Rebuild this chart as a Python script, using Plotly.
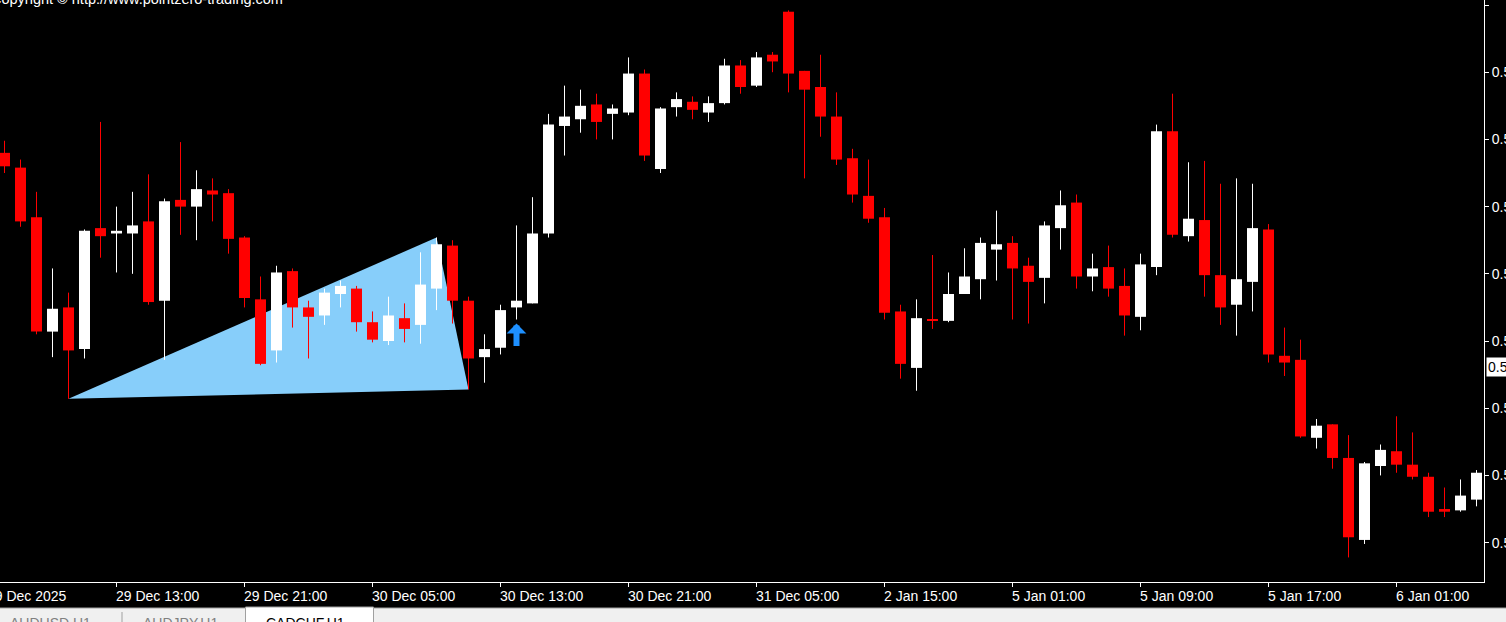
import plotly.graph_objects as go

# ---------------- data (CADCHF, H1) ----------------
bar_index = list(range(93))

open_prices = [0.57790, 0.57779, 0.57742, 0.57657, 0.57675, 0.57644, 0.57734, 0.57730, 0.57730, 0.57739,
               0.57680, 0.57755, 0.57750, 0.57762, 0.57760, 0.57727, 0.57681, 0.57643, 0.57702, 0.57675,
               0.57669, 0.57685, 0.57689, 0.57664, 0.57650, 0.57667, 0.57662, 0.57689, 0.57721, 0.57680,
               0.57638, 0.57645, 0.57675, 0.57678, 0.57730, 0.57810, 0.57815, 0.57826, 0.57819, 0.57820,
               0.57849, 0.57778, 0.57824, 0.57828, 0.57820, 0.57827, 0.57855, 0.57840, 0.57863, 0.57895,
               0.57851, 0.57839, 0.57817, 0.57786, 0.57758, 0.57742, 0.57672, 0.57630, 0.57666, 0.57665,
               0.57685, 0.57696, 0.57718, 0.57723, 0.57706, 0.57697, 0.57734, 0.57753, 0.57698, 0.57705,
               0.57691, 0.57668, 0.57705, 0.57806, 0.57728, 0.57740, 0.57699, 0.57677, 0.57694, 0.57733,
               0.57639, 0.57636, 0.57578, 0.57588, 0.57563, 0.57502, 0.57557, 0.57568, 0.57558, 0.57549,
               0.57525, 0.57524, 0.57532]

high_prices = [0.57799, 0.57785, 0.57761, 0.57704, 0.57686, 0.57733, 0.57813, 0.57750, 0.57761, 0.57774,
               0.57756, 0.57798, 0.57777, 0.57771, 0.57763, 0.57728, 0.57698, 0.57706, 0.57704, 0.57680,
               0.57689, 0.57695, 0.57691, 0.57672, 0.57683, 0.57678, 0.57716, 0.57727, 0.57725, 0.57683,
               0.57655, 0.57677, 0.57736, 0.57757, 0.57819, 0.57840, 0.57837, 0.57834, 0.57826, 0.57861,
               0.57852, 0.57824, 0.57835, 0.57832, 0.57832, 0.57860, 0.57859, 0.57865, 0.57865, 0.57896,
               0.57851, 0.57863, 0.57835, 0.57793, 0.57785, 0.57749, 0.57677, 0.57681, 0.57714, 0.57701,
               0.57719, 0.57727, 0.57747, 0.57728, 0.57712, 0.57739, 0.57762, 0.57759, 0.57715, 0.57721,
               0.57704, 0.57715, 0.57811, 0.57834, 0.57783, 0.57784, 0.57767, 0.57771, 0.57767, 0.57737,
               0.57660, 0.57651, 0.57592, 0.57588, 0.57580, 0.57560, 0.57573, 0.57594, 0.57582, 0.57552,
               0.57541, 0.57547, 0.57554]

low_prices = [0.57775, 0.57735, 0.57655, 0.57638, 0.57607, 0.57637, 0.57712, 0.57701, 0.57700, 0.57677,
              0.57636, 0.57729, 0.57725, 0.57739, 0.57715, 0.57675, 0.57632, 0.57634, 0.57660, 0.57637,
              0.57662, 0.57675, 0.57657, 0.57649, 0.57647, 0.57649, 0.57648, 0.57673, 0.57663, 0.57614,
              0.57619, 0.57640, 0.57666, 0.57678, 0.57727, 0.57788, 0.57805, 0.57800, 0.57800, 0.57818,
              0.57784, 0.57775, 0.57817, 0.57815, 0.57813, 0.57826, 0.57834, 0.57839, 0.57850, 0.57835,
              0.57771, 0.57802, 0.57781, 0.57753, 0.57738, 0.57666, 0.57622, 0.57613, 0.57659, 0.57664,
              0.57685, 0.57681, 0.57695, 0.57666, 0.57663, 0.57678, 0.57718, 0.57689, 0.57687, 0.57683,
              0.57654, 0.57658, 0.57699, 0.57727, 0.57724, 0.57683, 0.57662, 0.57654, 0.57672, 0.57634,
              0.57624, 0.57578, 0.57570, 0.57555, 0.57489, 0.57499, 0.57550, 0.57552, 0.57547, 0.57519,
              0.57519, 0.57523, 0.57527]

close_prices = [0.57780, 0.57739, 0.57657, 0.57674, 0.57643, 0.57732, 0.57728, 0.57732, 0.57736, 0.57679,
                0.57754, 0.57750, 0.57763, 0.57759, 0.57726, 0.57682, 0.57633, 0.57701, 0.57675, 0.57668,
                0.57686, 0.57691, 0.57664, 0.57651, 0.57669, 0.57659, 0.57692, 0.57722, 0.57680, 0.57637,
                0.57644, 0.57673, 0.57680, 0.57730, 0.57811, 0.57817, 0.57825, 0.57813, 0.57823, 0.57849,
                0.57788, 0.57823, 0.57830, 0.57822, 0.57827, 0.57855, 0.57839, 0.57861, 0.57858, 0.57849,
                0.57837, 0.57817, 0.57785, 0.57759, 0.57741, 0.57671, 0.57633, 0.57667, 0.57665, 0.57685,
                0.57698, 0.57723, 0.57722, 0.57704, 0.57694, 0.57736, 0.57751, 0.57698, 0.57704, 0.57689,
                0.57669, 0.57707, 0.57806, 0.57729, 0.57741, 0.57699, 0.57675, 0.57696, 0.57734, 0.57640,
                0.57634, 0.57579, 0.57587, 0.57563, 0.57504, 0.57559, 0.57569, 0.57558, 0.57549, 0.57523,
                0.57523, 0.57535, 0.57552]

# triangle pattern object (bar index, price)
triangle_index = [4, 27, 29]
triangle_price = [0.57607, 0.57727, 0.57614]

# buy signal arrow (tip)
signal_index = [32]
signal_price = [0.57663]

# price label on the right scale
label_price = 0.57631

# time axis
time_tick_index = [7, 15, 23, 31, 39, 47, 55, 63, 71, 79, 87]
time_tick_text = ["29 Dec 13:00", "29 Dec 21:00", "30 Dec 05:00", "30 Dec 13:00", "30 Dec 21:00",
                  "31 Dec 05:00", "2 Jan 15:00", "5 Jan 01:00", "5 Jan 09:00", "5 Jan 17:00", "6 Jan 01:00"]
first_date_text = "29 Dec 2025"

# price axis
price_ticks = [0.5750, 0.5755, 0.5760, 0.5765, 0.5770, 0.5775, 0.5780, 0.5785, 0.5790]

tab_names = ["AUDUSD,H1", "AUDJPY,H1", "CADCHF,H1"]

# ---------------- styling ----------------
BULL = "#FFFFFF"
BEAR = "#FF0000"
FONT = "Liberation Sans"
W, H = 1506, 622
ML, MR, MT, MB = 0, 22, 0, 40
PLOT_W = W - ML - MR
PLOT_H = H - MT - MB

fig = go.Figure()

# wicks
for want_bull, col in ((True, BULL), (False, BEAR)):
    wx, wy = [], []
    for i, o, hi, lo, c in zip(bar_index, open_prices, high_prices, low_prices, close_prices):
        if (c >= o) == want_bull:
            wx += [i, i, None]
            wy += [hi, lo, None]
    fig.add_trace(go.Scatter(x=wx, y=wy, mode="lines", line=dict(color=col, width=1),
                             hoverinfo="skip", showlegend=False))

# bodies
body_base = [min(o, c) for o, c in zip(open_prices, close_prices)]
body_len = [abs(c - o) for o, c in zip(open_prices, close_prices)]
body_col = [BULL if c >= o else BEAR for o, c in zip(open_prices, close_prices)]
fig.add_trace(go.Bar(x=bar_index, y=body_len, base=body_base, width=11 / 16,
                     marker=dict(color=body_col, line=dict(width=0)),
                     hoverinfo="skip", showlegend=False))

# triangle object drawn behind the candles (chart background object)
tri_path = "M " + " L ".join("%s,%s" % (i, p) for i, p in zip(triangle_index, triangle_price)) + " Z"
shapes = [dict(type="path", xref="x", yref="y", path=tri_path, fillcolor="#87CEFA",
               line=dict(width=0), layer="below")]

annotations = []
# signal arrow
for i, p in zip(signal_index, signal_price):
    annotations.append(dict(x=i, y=p, xref="x", yref="y", text="", showarrow=True,
                            ax=0, ay=24, arrowhead=1, arrowsize=0.55, arrowwidth=6,
                            arrowcolor="#1E90FF"))

# time labels (left aligned at tick, MT4 style)
for i, t in zip(time_tick_index, time_tick_text):
    annotations.append(dict(x=i, y=0, xref="x", yref="paper", text=t, showarrow=False,
                            xanchor="left", yanchor="top", xshift=-3, yshift=-4,
                            font=dict(family=FONT, size=14, color="white")))
annotations.append(dict(x=bar_index[0], y=0, xref="x", yref="paper", text=first_date_text,
                        showarrow=False, xanchor="left", yanchor="top", xshift=-20, yshift=-4,
                        font=dict(family=FONT, size=14, color="white")))

# copyright
annotations.append(dict(x=0, y=1, xref="paper", yref="paper",
                        text="Copyright \u00a9 http://www.pointzero-trading.com",
                        showarrow=False, xanchor="left", yanchor="top", xshift=-11, yshift=11,
                        font=dict(family=FONT, size=14.5, color="white")))

# price label box
annotations.append(dict(x=1, y=label_price, xref="paper", yref="y", text="%.5f" % label_price,
                        showarrow=False, xanchor="left", yanchor="middle", xshift=2,
                        bgcolor="white", borderpad=1,
                        font=dict(family=FONT, size=14, color="black")))


# bottom tabs
def py(px):
    return (PLOT_H - (px - MT)) / PLOT_H


shapes += [
    dict(type="rect", xref="paper", yref="paper", x0=0, x1=W / PLOT_W, y0=py(608), y1=py(630),
         fillcolor="#F0F0F0", line=dict(width=0), layer="above"),
    dict(type="line", xref="paper", yref="paper", x0=0, x1=W / PLOT_W, y0=py(608), y1=py(608),
         line=dict(color="#A0A0A0", width=1), layer="above"),
    dict(type="line", xref="paper", yref="paper", x0=122 / PLOT_W, x1=122 / PLOT_W, y0=py(612), y1=py(630),
         line=dict(color="#A0A0A0", width=1), layer="above"),
    dict(type="rect", xref="paper", yref="paper", x0=245.5 / PLOT_W, x1=373.5 / PLOT_W, y0=py(607), y1=py(630),
         fillcolor="white", line=dict(color="#A0A0A0", width=1), layer="above"),
]
tab_x = [8, 141, 264]
for name, tx, active in zip(tab_names, tab_x, [False, False, True]):
    annotations.append(dict(x=tx / PLOT_W, y=py(613), xref="paper", yref="paper", text=name,
                            showarrow=False, xanchor="left", yanchor="top",
                            font=dict(family=FONT, size=14, color="black" if active else "#808080")))

fig.update_layout(
    width=W, height=H, margin=dict(l=ML, r=MR, t=MT, b=MB, pad=0),
    paper_bgcolor="black", plot_bgcolor="black",
    showlegend=False, barmode="overlay",
    xaxis=dict(range=[-0.28125, 92.46875], tickvals=time_tick_index, showticklabels=False,
               ticks="outside", ticklen=4, tickcolor="white", showgrid=False, zeroline=False,
               showline=True, linecolor="white", linewidth=1, automargin=False, fixedrange=True),
    yaxis=dict(side="right", range=[0.5747071, 0.5790372], tickvals=price_ticks,
               ticktext=["%.5f" % v for v in price_ticks],
               ticks="outside", ticklen=4, tickcolor="white", showgrid=False, zeroline=False,
               showline=True, linecolor="white", linewidth=1, automargin=False, fixedrange=True,
               tickfont=dict(family=FONT, size=14, color="white")),
    annotations=annotations, shapes=shapes,
)

fig.write_html("out.html", config={"displayModeBar": False},
               post_script="document.body.style.margin='0';document.body.style.padding='0';"
                           "document.body.style.overflow='hidden';document.body.style.background='black';")
